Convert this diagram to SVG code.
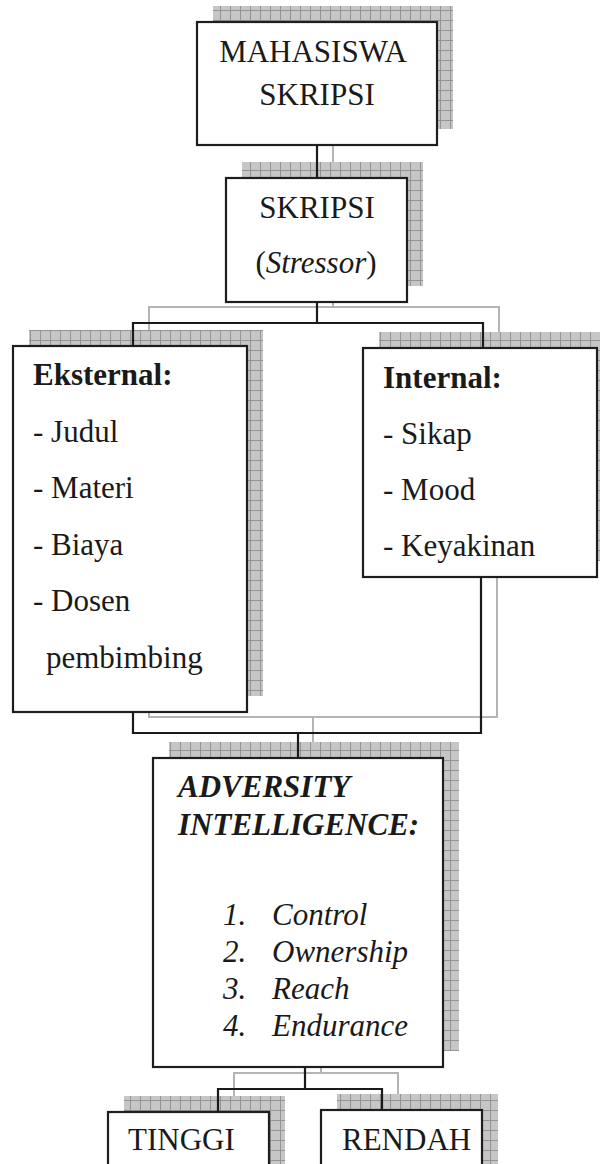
<svg xmlns="http://www.w3.org/2000/svg" width="600" height="1164" viewBox="0 0 600 1164">
<defs>
<pattern id="grid" width="10" height="10" patternUnits="userSpaceOnUse">
<rect width="10" height="10" fill="#c6c6c6"/>
<path d="M0 0.5H10M0.5 0V10" stroke="#949494" stroke-width="1"/>
</pattern>
<style>
.sh{fill:url(#grid)}
.box{fill:#fff;stroke:#1e1e1e;stroke-width:2.2}
.cn{fill:none;stroke:#1a1a1a;stroke-width:2.2}
.cs{fill:none;stroke:#b4b4b4;stroke-width:2}
.t{font-family:"Liberation Serif","Times New Roman",serif;font-size:31px;fill:#1a1a1a}
.c{text-anchor:middle}
.b{font-weight:bold}
.i{font-style:italic}
</style>
</defs>
<rect width="600" height="1164" fill="#fff"/>
<g id="shadows">
<rect class="sh" x="213" y="6" width="240" height="123"/>
<rect class="sh" x="242" y="162" width="181" height="124"/>
<rect class="sh" x="29" y="330" width="234" height="366"/>
<rect class="sh" x="379" y="332" width="234" height="229"/>
<rect class="sh" x="169" y="742" width="290" height="309"/>
<rect class="sh" x="124" y="1096" width="161" height="80"/>
<rect class="sh" x="337" y="1094" width="161" height="80"/>
</g>
<g id="connector-shadows">
<path class="cs" d="M333 129V162"/>
<path class="cs" d="M333 286V307M149 330V307H499V332"/>
<path class="cs" d="M149 696V717H497V561M313 717V742"/>
<path class="cs" d="M321 1051V1073M234 1096V1073H398V1094"/>
</g>
<g id="n-mahasiswa">
<rect class="box" x="197" y="22" width="240" height="123"/>
<text class="t c" x="313" y="62">MAHASISWA</text>
<text class="t c" x="317" y="105">SKRIPSI</text>
</g>
<g id="n-skripsi">
<rect class="box" x="226" y="178" width="181" height="124"/>
<text class="t c" x="317" y="218">SKRIPSI</text>
<text class="t c" x="316" y="273">(<tspan class="i">Stressor</tspan>)</text>
</g>
<g id="n-eksternal">
<rect class="box" x="13" y="346" width="234" height="366"/>
<text class="t b" x="33" y="385">Eksternal:</text>
<text class="t" x="33" y="442">- Judul</text>
<text class="t" x="33" y="498">- Materi</text>
<text class="t" x="33" y="555">- Biaya</text>
<text class="t" x="33" y="611">- Dosen</text>
<text class="t" x="46" y="668">pembimbing</text>
</g>
<g id="n-internal">
<rect class="box" x="363" y="348" width="234" height="229"/>
<text class="t b" x="383" y="388">Internal:</text>
<text class="t" x="383" y="444">- Sikap</text>
<text class="t" x="383" y="500">- Mood</text>
<text class="t" x="383" y="556">- Keyakinan</text>
</g>
<g id="n-adversity">
<rect class="box" x="153" y="758" width="290" height="309"/>
<text class="t b i" x="178" y="797">ADVERSITY</text>
<text class="t b i" x="178" y="835">INTELLIGENCE:</text>
<text class="t i" x="223" y="925">1.</text><text class="t i" x="272" y="925">Control</text>
<text class="t i" x="223" y="962">2.</text><text class="t i" x="272" y="962">Ownership</text>
<text class="t i" x="223" y="999">3.</text><text class="t i" x="272" y="999">Reach</text>
<text class="t i" x="223" y="1036">4.</text><text class="t i" x="272" y="1036">Endurance</text>
</g>
<g id="n-tinggi">
<rect class="box" x="108" y="1112" width="161" height="80"/>
<text class="t" x="128" y="1150">TINGGI</text>
</g>
<g id="n-rendah">
<rect class="box" x="321" y="1110" width="161" height="80"/>
<text class="t" x="342" y="1150">RENDAH</text>
</g>
<g id="connectors">
<path class="cn" d="M317 145V178"/>
<path class="cn" d="M317 302V323M133 346V323H483V348"/>
<path class="cn" d="M133 712V733H481V577M298 733V758"/>
<path class="cn" d="M305 1067V1089M218 1112V1089H382V1110"/>
</g>
</svg>
